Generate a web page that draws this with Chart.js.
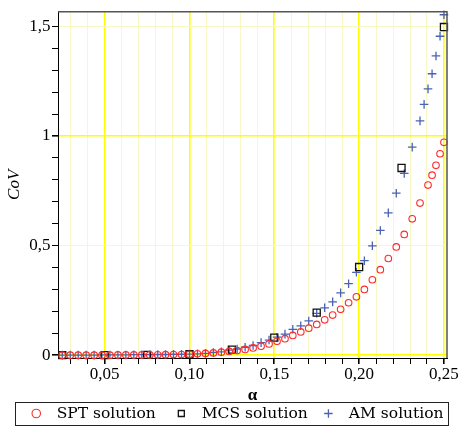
<!DOCTYPE html>
<html>
<head>
<meta charset="utf-8">
<script src="https://cdn.jsdelivr.net/npm/chart.js@4/dist/chart.umd.min.js"></script>
<style>
html,body{margin:0;padding:0;background:#ffffff;}
#wrap{width:459px;height:428px;}
</style>
</head>
<body>
<div id="wrap"><canvas id="c" width="459" height="428"></canvas></div>
<script>
// ---- data ----
const seriesNames = ['SPT solution', 'MCS solution', 'AM solution'];

const sptAlpha = [0.0250,0.0297,0.0344,0.0391,0.0438,0.0484,0.0531,0.0578,0.0625,0.0672,
  0.0719,0.0766,0.0813,0.0859,0.0906,0.0953,0.1000,0.1047,0.1094,0.1141,
  0.1188,0.1234,0.1281,0.1328,0.1375,0.1422,0.1469,0.1516,0.1563,0.1609,
  0.1656,0.1703,0.1750,0.1797,0.1844,0.1891,0.1938,0.1984,0.2031,0.2078,
  0.2125,0.2172,0.2219,0.2266,0.2313,0.2359,0.2406,0.2430,0.2453,0.2477,0.2500];
const sptCoV = [0.000,0.000,0.000,0.000,0.000,0.000,0.000,0.001,0.001,0.001,
  0.001,0.001,0.0015,0.002,0.0025,0.003,0.004,0.006,0.0077,0.010,
  0.0135,0.017,0.021,0.026,0.033,0.041,0.051,0.063,0.075,0.090,
  0.106,0.123,0.140,0.161,0.183,0.209,0.239,0.266,0.300,0.344,
  0.390,0.441,0.494,0.551,0.622,0.694,0.776,0.821,0.866,0.919,0.971];

const mcsAlpha = [0.025,0.050,0.075,0.100,0.125,0.150,0.175,0.200,0.225,0.250];
const mcsCoV   = [0.000,0.000,0.001,0.004,0.025,0.080,0.194,0.402,0.854,1.497];

const amAlpha = [0.0250,0.0297,0.0344,0.0391,0.0438,0.0484,0.0531,0.0578,0.0625,0.0672,
  0.0719,0.0766,0.0813,0.0859,0.0906,0.0953,0.1000,0.1047,0.1094,0.1141,
  0.1188,0.1234,0.1281,0.1328,0.1375,0.1422,0.1469,0.1516,0.1563,0.1609,
  0.1656,0.1703,0.1750,0.1797,0.1844,0.1891,0.1938,0.1984,0.2031,0.2078,
  0.2125,0.2172,0.2219,0.2266,0.2313,0.2359,0.2383,0.2406,0.2430,0.2453,0.2477,0.2500];
const amCoV = [0.000,0.000,0.000,0.000,0.000,0.001,0.001,0.001,0.001,0.002,
  0.002,0.002,0.003,0.003,0.004,0.004,0.005,0.006,0.008,0.012,
  0.015,0.0225,0.028,0.036,0.044,0.057,0.069,0.082,0.096,0.118,
  0.134,0.156,0.191,0.216,0.243,0.284,0.326,0.378,0.431,0.499,
  0.569,0.649,0.739,0.829,0.949,1.069,1.144,1.215,1.284,1.365,1.455,1.553];

const xTickLabels = {5:'0,05', 10:'0,10', 15:'0,15', 20:'0,20', 25:'0,25'}; // keyed by hundredths
const yTickLabels = {0:'0', 5:'0,5', 10:'1', 15:'1,5'};                      // keyed by tenths
const xTitle = 'α';
const yTitle = 'CoV';

// ---- styling ----
const SERIF = "'Liberation Serif','DejaVu Serif',serif";
const LEGEND_FONT = "'DejaVu Serif','Liberation Serif',serif";
const MAJOR = '#ffff00';
const MINOR = '#f8f8c4';
const LEGEND_SHIFT = 15;

function pairs(xs, ys){ return xs.map((x,i)=>({x:x, y:ys[i]})); }

const framePlugin = {
  id:'frame',
  afterLayout(chart){
    const lg = chart.legend;
    if (lg){ lg.left += LEGEND_SHIFT; lg.right += LEGEND_SHIFT; }
  },
  afterDraw(chart){
    const {ctx, chartArea:a} = chart;
    ctx.save();
    ctx.strokeStyle = '#555555';
    ctx.lineWidth = 1.5;
    ctx.beginPath();
    ctx.moveTo(a.left, a.top);
    ctx.lineTo(a.right, a.top);
    ctx.lineTo(a.right, a.bottom);
    ctx.stroke();
    const lg = chart.legend;
    if (lg && lg.legendHitBoxes && lg.legendHitBoxes.length){
      const hb = lg.legendHitBoxes;
      const l = Math.min(...hb.map(h=>h.left)) - 14;
      const r = Math.max(...hb.map(h=>h.left + h.width)) - 1;
      const t = Math.min(...hb.map(h=>h.top)) - 3.75;
      const b = Math.max(...hb.map(h=>h.top + h.height)) + 3.75;
      ctx.strokeStyle = '#222222';
      ctx.lineWidth = 1;
      ctx.strokeRect(Math.round(l)+0.5, Math.round(t)+0.5, Math.round(r-l), Math.round(b-t));
    }
    ctx.restore();
  }
};

new Chart(document.getElementById('c'), {
  type:'scatter',
  data:{
    datasets:[
      {label:' '+seriesNames[0]+'  ', data:pairs(sptAlpha,sptCoV), pointStyle:'circle', pointRadius:3.3,
       borderColor:'#ff2a2a', backgroundColor:'rgba(0,0,0,0)', borderWidth:1.1, clip:false},
      {label:' '+seriesNames[1]+' ', data:pairs(mcsAlpha,mcsCoV), pointStyle:'rect', pointRadius:5,
       borderColor:'#111111', backgroundColor:'rgba(0,0,0,0)', borderWidth:1.3, clip:false},
      {label:' '+seriesNames[2]+' ', data:pairs(amAlpha,amCoV), pointStyle:'cross', pointRadius:4.3,
       borderColor:'#4a62b4', backgroundColor:'#4a62b4', borderWidth:1.3, clip:false}
    ]
  },
  options:{
    responsive:false,
    animation:false,
    devicePixelRatio:1,
    layout:{padding:{left:0,right:12,top:6,bottom:-3.25}},
    plugins:{
      legend:{
        position:'bottom',
        labels:{usePointStyle:true, boxHeight:6, padding:8, color:'#000',
                font:{family:LEGEND_FONT, size:15.5}}
      },
      tooltip:{enabled:false}
    },
    scales:{
      x:{
        type:'linear', min:0.0225, max:0.2518,
        afterFit(s){ s.height = 39.75; },
        border:{display:true, color:'#000', width:1},
        grid:{
          color(c){ const m = Math.round(c.tick.value*100); return m%5===0 ? MAJOR : MINOR; },
          lineWidth(c){ const m = Math.round(c.tick.value*100); return m%5===0 ? 1.6 : 1; },
          tickLength:6, tickColor:'#000', drawTicks:true
        },
        ticks:{stepSize:0.01, includeBounds:false, autoSkip:false, maxRotation:0, minRotation:0,
               padding:0, color:'#000', font:{family:SERIF, size:17},
               callback(v){ const m = Math.round(v*100); return xTickLabels[m] || ''; }},
        title:{display:true, text:xTitle, color:'#000', padding:{top:0,bottom:-6.5},
               font:{family:SERIF, size:17, weight:'bold', lineHeight:1}}
      },
      y:{
        type:'linear', min:-0.013, max:1.567,
        afterFit(s){ s.width = 58; },
        border:{display:true, color:'#000', width:1},
        grid:{
          color(c){ const m = Math.round(c.tick.value*10); return m%10===0 ? MAJOR : (m%5===0 ? MINOR : 'rgba(0,0,0,0)'); },
          lineWidth(c){ const m = Math.round(c.tick.value*10); return m%10===0 ? 1.6 : 1; },
          tickLength:6, tickColor:'#000', drawTicks:true
        },
        ticks:{stepSize:0.1, includeBounds:false, autoSkip:false, padding:1.5, color:'#000',
               font:{family:SERIF, size:17},
               callback(v){ const m = Math.round(v*10); return (m in yTickLabels) ? yTickLabels[m] : ''; }},
        title:{display:true, text:yTitle, color:'#000', padding:{top:4, bottom:0},
               font:{family:SERIF, size:17, style:'italic'}}
      }
    }
  },
  plugins:[framePlugin]
});
</script>
</body>
</html>
